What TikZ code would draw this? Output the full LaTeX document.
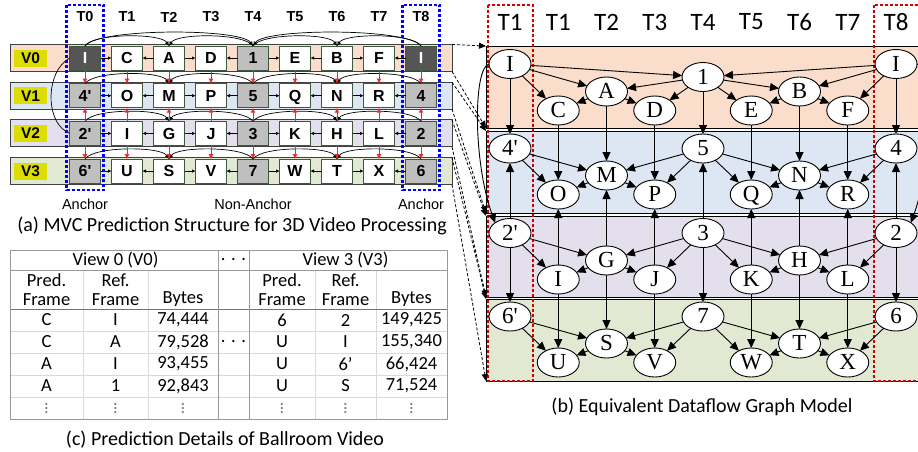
\documentclass[tikz,border=0pt]{standalone}
\usepackage{fontspec}
\setmainfont{Carlito}
\newfontfamily\arialf{Liberation Sans}
\newfontfamily\timesf{Liberation Serif}
\usetikzlibrary{arrows.meta, positioning, shapes.geometric, matrix}

\definecolor{vzero}{RGB}{250,222,203}
\definecolor{vone}{RGB}{221,231,243}
\definecolor{vtwo}{RGB}{228,223,236}
\definecolor{vthree}{RGB}{225,233,211}
\definecolor{tagyellow}{RGB}{221,221,0}
\definecolor{frameedge}{RGB}{62,88,62}
\definecolor{keygray}{RGB}{85,85,85}
\definecolor{ancgray}{RGB}{191,191,191}
\definecolor{predred}{RGB}{240,40,40}
\definecolor{zonered}{RGB}{210,0,0}

\newcommand{\tabdots}{\textcolor{gray}{\raisebox{0pt}[10pt][0pt]{$\vdots$}}}

\begin{document}
\begin{tikzpicture}[
    x=1pt, y=-1pt,
    every node/.style={inner sep=0pt, outer sep=0pt},
    strip/.style={draw=black!75, line width=1pt, minimum width=442pt, minimum height=27pt},
    vtag/.style={fill=tagyellow, minimum width=33pt, minimum height=17pt,
                 font=\arialf\bfseries\fontsize{15.5}{15.5}\selectfont},
    fr/.style={draw=frameedge, line width=1pt, fill=white, minimum width=31pt, minimum height=24pt,
               text height=11.5pt, text depth=0pt, font=\arialf\bfseries\fontsize{16}{16}\selectfont},
    anc/.style={fr, fill=ancgray},
    kfr/.style={fr, fill=keygray, text=white},
    thead/.style={font=\arialf\bfseries\fontsize{14.5}{14.5}\selectfont},
    annot/.style={font=\arialf\fontsize{14.5}{14.5}\selectfont},
    capt/.style={font=\fontsize{20}{20}\selectfont},
    hop/.style={-{Latex[length=3.5pt,width=3.5pt]}, black, line width=0.6pt},
    jump/.style={-{Latex[length=4.5pt,width=4pt]}, black, line width=0.7pt},
    inter/.style={-{Latex[length=5pt,width=5pt]}, predred, line width=1pt},
    zone/.style={draw=blue, line width=2.8pt, dash pattern=on 3pt off 2pt},
    band/.style={draw=black, line width=0.8pt, minimum width=460pt, anchor=north west},
    tzone/.style={draw=zonered, line width=2pt, dash pattern=on 3pt off 2pt},
    ghead/.style={font=\fontsize{25}{25}\selectfont},
    gnode/.style={draw, ellipse, fill=white, line width=0.9pt, minimum width=42pt, minimum height=29pt,
                  text height=15pt, text depth=1pt, font=\timesf\fontsize{23}{23}\selectfont},
    dep/.style={-{Triangle[length=9pt,width=8pt]}, black, line width=0.9pt},
    link/.style={-{Triangle[length=7pt,width=6pt]}, black, line width=0.8pt, dash pattern=on 3pt off 2pt},
    tline/.style={draw=black!40, line width=0.8pt},
    tsep/.style={draw=black!55, line width=1pt},
    tfaint/.style={draw=black!15, line width=0.6pt}
]
\useasboundingbox (0,0) rectangle (918,451);

% =========================================================
% (a) one strip per view, frames T0..T8
% =========================================================
\node[strip, fill=vzero]  (s0) at (231,58)    {};
\node[strip, fill=vone]   (s1) at (231,95.7)  {};
\node[strip, fill=vtwo]   (s2) at (231,133.4) {};
\node[strip, fill=vthree] (s3) at (231,171.1) {};

\node[vtag] (v0) at (30.5,58)    {V0};
\node[vtag] (v1) at (30.5,95.7)  {V1};
\node[vtag] (v2) at (30.5,133.4) {V2};
\node[vtag] (v3) at (30.5,171.1) {V3};

% time stamps
\foreach \c in {0,...,8}
    \node[thead] (h\c) at (85+42*\c,17) {T\c};

% view 0
\node[kfr] (a00) at (85,58) {I};
\node[fr,  right=11pt of a00] (a01) {C};
\node[fr,  right=11pt of a01] (a02) {A};
\node[fr,  right=11pt of a02] (a03) {D};
\node[anc, right=11pt of a03] (a04) {1};
\node[fr,  right=11pt of a04] (a05) {E};
\node[fr,  right=11pt of a05] (a06) {B};
\node[fr,  right=11pt of a06] (a07) {F};
\node[kfr, right=11pt of a07] (a08) {I};

% view 1
\node[anc] (a10) at (85,95.7) {4'};
\node[fr,  right=11pt of a10] (a11) {O};
\node[fr,  right=11pt of a11] (a12) {M};
\node[fr,  right=11pt of a12] (a13) {P};
\node[anc, right=11pt of a13] (a14) {5};
\node[fr,  right=11pt of a14] (a15) {Q};
\node[fr,  right=11pt of a15] (a16) {N};
\node[fr,  right=11pt of a16] (a17) {R};
\node[anc, right=11pt of a17] (a18) {4};

% view 2
\node[anc] (a20) at (85,133.4) {2'};
\node[fr,  right=11pt of a20] (a21) {I};
\node[fr,  right=11pt of a21] (a22) {G};
\node[fr,  right=11pt of a22] (a23) {J};
\node[anc, right=11pt of a23] (a24) {3};
\node[fr,  right=11pt of a24] (a25) {K};
\node[fr,  right=11pt of a25] (a26) {H};
\node[fr,  right=11pt of a26] (a27) {L};
\node[anc, right=11pt of a27] (a28) {2};

% view 3
\node[anc] (a30) at (85,171.1) {6'};
\node[fr,  right=11pt of a30] (a31) {U};
\node[fr,  right=11pt of a31] (a32) {S};
\node[fr,  right=11pt of a32] (a33) {V};
\node[anc, right=11pt of a33] (a34) {7};
\node[fr,  right=11pt of a34] (a35) {W};
\node[fr,  right=11pt of a35] (a36) {T};
\node[fr,  right=11pt of a36] (a37) {X};
\node[anc, right=11pt of a37] (a38) {6};

% temporal prediction inside a view
\foreach \r in {0,...,3} {
    \foreach \s/\t in {0/1,2/1,2/3,4/3,4/5,6/5,6/7,8/7}
        \draw[hop] (a\r\s) -- (a\r\t);
    \draw[jump] (a\r0.north) .. controls +(8,-13) and +(-8,-13) .. (a\r2.north);
    \draw[jump] (a\r4.north) .. controls +(-8,-13) and +(8,-13) .. (a\r2.north);
    \draw[jump] (a\r4.north) .. controls +(8,-13) and +(-8,-13) .. (a\r6.north);
    \draw[jump] (a\r8.north) .. controls +(-8,-13) and +(8,-13) .. (a\r6.north);
}
\draw[jump] (a00.north) .. controls +(12,-18) and +(-12,-18) .. (a04.north);
\draw[jump] (a08.north) .. controls +(-12,-18) and +(12,-18) .. (a04.north);

% inter-view prediction
\foreach \c in {0,...,8} {
    \draw[inter] (a0\c) -- (a1\c);
    \draw[inter] (a2\c) -- (a1\c);
    \draw[inter] (a2\c) -- (a3\c);
}
\draw[jump] (a00.west) .. controls +(-24,14) and +(-24,-14) .. (a20.west);

% anchor columns
\draw[zone] (66.5,5) rectangle (103.5,190);
\draw[zone] (402.5,5) rectangle (439.5,190);

\node[annot] (anc0) at (85,204)  {Anchor};
\node[annot] (nanc) at (253,204) {Non-Anchor};
\node[annot] (anc8) at (421,204) {Anchor};

\node[capt] (capa) at (232,226) {(a) MVC Prediction Structure for 3D Video Processing};

% =========================================================
% (b) dataflow graph, one band per view
% =========================================================
\node[band, fill=vzero,  minimum height=82pt] (b0) at (486,46)  {};
\node[band, fill=vone,   minimum height=82pt] (b1) at (486,131) {};
\node[band, fill=vtwo,   minimum height=81pt] (b2) at (486,216) {};
\node[band, fill=vthree, minimum height=82pt] (b3) at (486,299) {};

\draw[tzone] (488,5) rectangle (533,381);
\draw[tzone] (874,5) rectangle (940,381);

\node[ghead] (k0) at (510,22) {T1};
\foreach \c in {1,...,8}
    \node[ghead] (k\c) at (510+48.25*\c,22) {T\c};

% actors
\foreach \c/\l/\dy in {0/I/18, 1/C/64.5, 2/A/45.5, 3/D/64.5, 4/1/31, 5/E/64.5, 6/B/45.5, 7/F/64.5, 8/I/18}
    \node[gnode] (n0\c) at (510+48.25*\c,46+\dy) {\l};
\foreach \c/\l/\dy in {0/4'/17.5, 1/O/63.5, 2/M/44.5, 3/P/63.5, 4/5/17.5, 5/Q/63.5, 6/N/44.5, 7/R/63.5, 8/4/17.5}
    \node[gnode] (n1\c) at (510+48.25*\c,131+\dy) {\l};
\foreach \c/\l/\dy in {0/2'/17, 1/I/63.5, 2/G/44.5, 3/J/63.5, 4/3/17, 5/K/63.5, 6/H/44.5, 7/L/63.5, 8/2/17}
    \node[gnode] (n2\c) at (510+48.25*\c,216+\dy) {\l};
\foreach \c/\l/\dy in {0/6'/17.5, 1/U/63.5, 2/S/44.5, 3/V/63.5, 4/7/17.5, 5/W/63.5, 6/T/44.5, 7/X/63.5, 8/6/17.5}
    \node[gnode] (n3\c) at (510+48.25*\c,299+\dy) {\l};

% dependencies
\foreach \r in {0,...,3}
    \foreach \s/\t in {0/1,0/2,2/1,2/3,4/2,4/3,4/5,4/6,6/5,6/7,8/6,8/7}
        \draw[dep] (n\r\s) -- (n\r\t);
\draw[dep] (n00) -- (n04);
\draw[dep] (n08) -- (n04);
\foreach \c in {0,...,8} {
    \draw[dep] (n0\c) -- (n1\c);
    \draw[dep] (n2\c) -- (n1\c);
    \draw[dep] (n2\c) -- (n3\c);
}
\draw[dep] (n00.west) .. controls +(-16,4) and +(-22,-60) .. (n20.north west);
\draw[dep] (n08.east) .. controls +(16,4) and +(22,-60) .. (n28.north east);

% strips of (a) mapped onto the bands of (b)
\foreach \r in {0,...,3} {
    \draw[link] (s\r.north east) -- (b\r.north west);
    \draw[link] (s\r.south east) -- (b\r.south west);
}

\node[capt] (capb) at (702,407) {(b) Equivalent Dataflow Graph Model};

% =========================================================
% (c) prediction details table
% =========================================================
\matrix (tab) [matrix of nodes, anchor=north west,
    nodes={font=\fontsize{18.5}{18.5}\selectfont, anchor=center},
    column 1/.style={nodes={minimum width=73pt}},
    column 2/.style={nodes={minimum width=65pt}},
    column 3/.style={nodes={minimum width=70pt}},
    column 4/.style={nodes={minimum width=31pt}},
    column 5/.style={nodes={minimum width=66pt}},
    column 6/.style={nodes={minimum width=61pt}},
    column 7/.style={nodes={minimum width=71pt}},
    row 1/.style={nodes={minimum height=20pt}},
    row 2/.style={nodes={minimum height=19.5pt}},
    row 3/.style={nodes={minimum height=19.5pt}},
    row 4/.style={nodes={minimum height=22pt}},
    row 5/.style={nodes={minimum height=22pt}},
    row 6/.style={nodes={minimum height=22pt}},
    row 7/.style={nodes={minimum height=22pt}},
    row 8/.style={nodes={minimum height=22pt}}
] at (10,250) {
    & \makebox[0pt]{View 0 (V0)} & & . . . & & \makebox[0pt]{View 3 (V3)} & \\
    Pred. & Ref. & & & Pred. & Ref. & \\
    Frame & Frame & Bytes & & Frame & Frame & Bytes \\
    C & I & 74,444 & & 6 & 2 & 149,425 \\
    C & A & 79,528 & . . . & U & I & 155,340 \\
    A & I & 93,455 & & U & 6' & 66,424 \\
    A & 1 & 92,843 & & U & S & 71,524 \\
    \tabdots & \tabdots & \tabdots & & \tabdots & \tabdots & \tabdots \\
};

\foreach \y in {331,353,375,397}
    \draw[tfaint] (10,\y) -- (447,\y);
\foreach \x in {83,148,315,376}
    \draw[tfaint] (\x,270) -- (\x,419);
\draw[tline] (10,270) -- (447,270);
\draw[tsep] (10,309) -- (447,309);
\foreach \x in {218,249}
    \draw[tline] (\x,250) -- (\x,419);
\draw[tline] (10,250) rectangle (447,419);

\node[capt] (capc) at (225,440) {(c) Prediction Details of Ballroom Video};

\end{tikzpicture}
\end{document}
